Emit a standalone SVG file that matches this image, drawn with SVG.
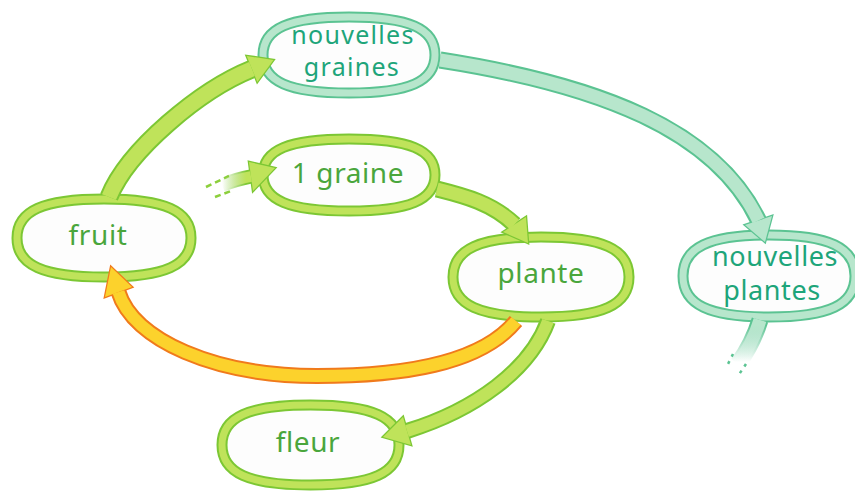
<svg xmlns="http://www.w3.org/2000/svg" xmlns:xlink="http://www.w3.org/1999/xlink" width="855" height="491" viewBox="0 0 855 491">
<style>
.bg{fill:#ffffff}
.nb{fill:#fdfdfd}
.g-out{stroke:#7cc734;stroke-width:11}
.g-in{fill:none;stroke:#bfe35a;stroke-width:7}
.t-out{stroke:#5bc392;stroke-width:11}
.t-in{fill:none;stroke:#b7e6cc;stroke-width:7}
.lbl{font-family:"Noto Sans","Open Sans","DejaVu Sans",sans-serif;font-size:28px;text-anchor:middle;letter-spacing:0.6px}
.lbl2{font-size:27px}
.lbl3{font-size:25px;letter-spacing:1.3px}
.lg{fill:#4aa63c}
.lt{fill:#1ea57a}
.sh{fill:none;stroke-linecap:butt}
.gd{stroke:#7cc734}
.gl{stroke:#bfe35a}
.td{stroke:#5bc392}
.tl{stroke:#b7e6cc}
.od{stroke:#f07a1c}
.ol{stroke:#fcd22c}
.hg{fill:#bfe35a;stroke:#7cc734;stroke-width:2.5;stroke-linejoin:miter}
.ht{fill:#b7e6cc;stroke:#5bc392;stroke-width:2.5;stroke-linejoin:miter}
.ho{fill:#fcd22c;stroke:#f07a1c;stroke-width:2.5;stroke-linejoin:miter}
.hfg{fill:#bfe35a}
.hft{fill:#b7e6cc}
.hfo{fill:#fcd22c}
.dash-g{fill:none;stroke:#8ccf3c;stroke-width:2.5;stroke-dasharray:6 4}
.dash-t{fill:none;stroke:#5bc392;stroke-width:2.5;stroke-dasharray:3 5}
</style>
<defs>
<path id="n1" d="M 263 55 C 263 28.4, 288.8 17, 349 17 C 409.2 17, 435 28.4, 435 55 C 435 81.6, 409.2 93, 349 93 C 288.8 93, 263 81.6, 263 55 Z"/>
<path id="n2" d="M 17 238 C 17 210.7, 43.1 199, 104 199 C 164.9 199, 191 210.7, 191 238 C 191 265.3, 164.9 277, 104 277 C 43.1 277, 17 265.3, 17 238 Z"/>
<path id="n3" d="M 263 175 C 263 149.8, 288.8 139, 349 139 C 409.2 139, 435 149.8, 435 175 C 435 200.2, 409.2 211, 349 211 C 288.8 211, 263 200.2, 263 175 Z"/>
<path id="n4" d="M 453 277 C 453 249, 479.4 237, 541 237 C 602.6 237, 629 249, 629 277 C 629 305, 602.6 317, 541 317 C 479.4 317, 453 305, 453 277 Z"/>
<path id="n5" d="M 683 276 C 683 247.3, 708.8 235, 769 235 C 829.2 235, 855 247.3, 855 276 C 855 304.7, 829.2 317, 769 317 C 708.8 317, 683 304.7, 683 276 Z"/>
<path id="n6" d="M 222 445 C 222 417, 248.5 405, 310.5 405 C 372.5 405, 399 417, 399 445 C 399 473, 372.5 485, 310.5 485 C 248.5 485, 222 473, 222 445 Z"/>
<path id="p1" d="M 109 197 C 128 150, 200 90, 252 69"/>
<path id="p2" d="M 222 185 Q 237 179 251 176.5"/>
<path id="p3" d="M 437 189 C 465 196, 492 203, 514.5 224.5"/>
<path id="p4" d="M 548 321 C 530 370, 475 410, 407 431"/>
<path id="p5" d="M 516 321 C 480 365, 400 376, 317 376 C 215 376, 133 340, 118.5 292"/>
<path id="p6" d="M 440 60 C 600 85, 715 130, 758.5 220.5"/>
<path id="p7" d="M 760 320 Q 753 343 738 364"/>
<linearGradient id="fadeG" gradientUnits="userSpaceOnUse" x1="222" y1="0" x2="246" y2="0">
<stop offset="0" stop-color="#ffffff" stop-opacity="0"/>
<stop offset="1" stop-color="#bfe35a"/>
</linearGradient>
<linearGradient id="fadeGd" gradientUnits="userSpaceOnUse" x1="222" y1="0" x2="246" y2="0">
<stop offset="0" stop-color="#7cc734" stop-opacity="0"/>
<stop offset="1" stop-color="#7cc734"/>
</linearGradient>
<linearGradient id="fadeT" gradientUnits="userSpaceOnUse" x1="0" y1="325" x2="0" y2="362">
<stop offset="0" stop-color="#b7e6cc"/>
<stop offset="1" stop-color="#ffffff" stop-opacity="0"/>
</linearGradient>
<linearGradient id="fadeTd" gradientUnits="userSpaceOnUse" x1="0" y1="325" x2="0" y2="362">
<stop offset="0" stop-color="#5bc392"/>
<stop offset="1" stop-color="#5bc392" stop-opacity="0"/>
</linearGradient>
</defs>
<rect class="bg" x="0" y="0" width="855" height="491"/>

<g id="node-nouvelles-graines">
<use xlink:href="#n1" class="nb t-out"/>
<use xlink:href="#n1" class="t-in"/>
<text class="lbl lbl3 lt" x="353" y="43.5">nouvelles</text>
<text class="lbl lbl3 lt" x="352" y="75.5">graines</text>
</g>
<g id="node-fruit">
<use xlink:href="#n2" class="nb g-out"/>
<use xlink:href="#n2" class="g-in"/>
<text class="lbl lg" x="98" y="245">fruit</text>
</g>
<g id="node-1-graine">
<use xlink:href="#n3" class="nb g-out"/>
<use xlink:href="#n3" class="g-in"/>
<text class="lbl lg" x="348" y="183">1 graine</text>
</g>
<g id="node-plante">
<use xlink:href="#n4" class="nb g-out"/>
<use xlink:href="#n4" class="g-in"/>
<text class="lbl lg" x="541" y="283">plante</text>
</g>
<g id="node-nouvelles-plantes">
<use xlink:href="#n5" class="nb t-out"/>
<use xlink:href="#n5" class="t-in"/>
<text class="lbl lbl2 lt" x="775" y="266">nouvelles</text>
<text class="lbl lbl2 lt" x="772" y="300">plantes</text>
</g>
<g id="node-fleur">
<use xlink:href="#n6" class="nb g-out"/>
<use xlink:href="#n6" class="g-in"/>
<text class="lbl lg" x="308" y="452">fleur</text>
</g>

<g id="connectors">
<!-- fruit -> nouvelles graines -->
<use xlink:href="#p1" class="sh gd" stroke-width="19"/>
<polygon class="hg" points="273.5,60 246.7,56 257.3,82"/>
<use xlink:href="#p1" class="sh gl" stroke-width="15"/>
<polygon class="hfg" points="273.5,60 246.7,56 257.3,82"/>

<!-- dashed start -> 1 graine -->
<line class="dash-g" x1="206" y1="187" x2="229" y2="176"/>
<line class="dash-g" x1="215" y1="197" x2="231" y2="191"/>
<use xlink:href="#p2" class="sh" stroke="url(#fadeGd)" stroke-width="14"/>
<polygon class="hg" points="275,168 249,162 253,191"/>
<use xlink:href="#p2" class="sh" stroke="url(#fadeG)" stroke-width="10.5"/>
<polygon class="hfg" points="275,168 249,162 253,191"/>

<!-- 1 graine -> plante -->
<use xlink:href="#p3" class="sh gd" stroke-width="17"/>
<polygon class="hg" points="528,243 526,217 503,232"/>
<use xlink:href="#p3" class="sh gl" stroke-width="13"/>
<polygon class="hfg" points="528,243 526,217 503,232"/>

<!-- plante -> fleur -->
<use xlink:href="#p4" class="sh gd" stroke-width="16"/>
<polygon class="hg" points="383,437 403,417 411,445"/>
<use xlink:href="#p4" class="sh gl" stroke-width="12"/>
<polygon class="hfg" points="383,437 403,417 411,445"/>

<!-- plante -> fruit -->
<use xlink:href="#p5" class="sh od" stroke-width="16"/>
<polygon class="ho" points="111,267 105,297 132,287"/>
<use xlink:href="#p5" class="sh ol" stroke-width="12"/>
<polygon class="hfo" points="111,267 105,297 132,287"/>

<!-- nouvelles graines -> nouvelles plantes -->
<use xlink:href="#p6" class="sh td" stroke-width="17"/>
<polygon class="ht" points="765,242 745,225 772,216"/>
<use xlink:href="#p6" class="sh tl" stroke-width="13"/>
<polygon class="hft" points="765,242 745,225 772,216"/>

<!-- nouvelles plantes -> onward -->
<use xlink:href="#p7" class="sh" stroke="url(#fadeTd)" stroke-width="17"/>
<use xlink:href="#p7" class="sh" stroke="url(#fadeT)" stroke-width="13"/>
<line class="dash-t" x1="733" y1="354" x2="727" y2="366"/>
<line class="dash-t" x1="746" y1="364" x2="738" y2="376"/>
</g>
</svg>
